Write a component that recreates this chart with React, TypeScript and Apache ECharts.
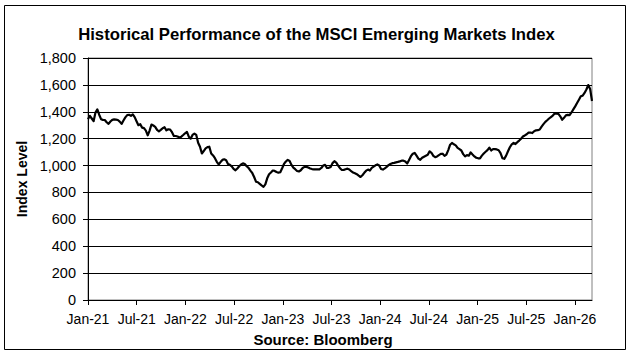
import React, { useEffect, useRef } from "react";
import * as echarts from "echarts";

// Weekly index levels, starting the first week of Jan 2021
const startYear = 2021;
const weeklyLevels: number[] = [
  1345, 1370, 1350, 1330, 1395, 1418, 1378, 1345, 1340, 1339,
  1322, 1310, 1328, 1340, 1343, 1342, 1339, 1327, 1310, 1335,
  1358, 1375, 1378, 1370, 1380, 1360, 1330, 1300, 1308, 1282,
  1278, 1260, 1225, 1260, 1305, 1298, 1288, 1265, 1255, 1265,
  1278, 1285, 1262, 1270, 1268, 1248, 1220, 1220, 1216, 1208,
  1215, 1227, 1240, 1250, 1215, 1200, 1228, 1238, 1228, 1170,
  1140, 1090, 1108, 1128, 1137, 1140, 1090, 1075, 1055, 1028,
  1008, 1026, 1042, 1047, 1040, 1011, 1005, 994, 975, 965,
  978, 995, 1008, 1016, 1011, 995, 983, 962, 945, 915,
  880, 876, 864, 852, 842, 860, 905, 935, 948, 963,
  960, 952, 947, 950, 980, 1012, 1030, 1042, 1034, 1005,
  985, 973, 960, 956, 965, 982, 990, 990, 985, 978,
  974, 972, 972, 972, 972, 982, 1000, 1005, 982, 983,
  990, 1018, 1032, 1022, 1000, 980, 967, 968, 973, 977,
  971, 958, 948, 943, 936, 925, 915, 928, 946, 962,
  970, 963, 982, 992, 1002, 1008, 1000, 975, 970, 979,
  990, 1003, 1012, 1018, 1020, 1024, 1027, 1031, 1036, 1036,
  1030, 1015, 1042, 1070, 1088, 1094, 1074, 1052, 1043, 1058,
  1066, 1073, 1080, 1106, 1095, 1072, 1062, 1068, 1078, 1087,
  1088, 1072, 1082, 1115, 1155, 1168, 1158, 1150, 1131, 1122,
  1112, 1085, 1068, 1078, 1073, 1098, 1082, 1068, 1058, 1054,
  1054, 1074, 1090, 1103, 1115, 1133, 1112, 1123, 1122, 1120,
  1114, 1092, 1055, 1050, 1074, 1106, 1136, 1158, 1168, 1160,
  1174, 1186, 1200, 1216, 1224, 1233, 1245, 1246, 1242, 1255,
  1262, 1263, 1268, 1290, 1308, 1325, 1337, 1350, 1361, 1372,
  1387, 1386, 1385, 1366, 1340, 1355, 1373, 1377, 1375, 1395,
  1418, 1440, 1465, 1490, 1516, 1520, 1540, 1566, 1599, 1570,
  1480,
];

const tickLabels: string[] = [
  "Jan-21", "Jul-21", "Jan-22", "Jul-22", "Jan-23", "Jul-23",
  "Jan-24", "Jul-24", "Jan-25", "Jul-25", "Jan-26",
];
const tickMonths: number[] = [0, 6, 12, 18, 24, 30, 36, 42, 48, 54, 60];

const yMin = 0;
const yMax = 1800;
const yStep = 200;

const titleText = "Historical Performance of the MSCI Emerging Markets Index";
const yAxisTitle = "Index Level";
const sourceText = "Source: Bloomberg";

const DAYS_PER_MONTH = 365.25 / 12;

export default function App() {
  const ref = useRef<HTMLDivElement>(null);

  useEffect(() => {
    if (!ref.current) return;
    const chart = echarts.init(ref.current, undefined, { renderer: "svg" });
    // x position = months elapsed since Jan 2021 (weekly observations)
    const data = weeklyLevels.map((v, i) => [(i * 7) / DAYS_PER_MONTH, v]);
    const xMax = ((weeklyLevels.length - 1) * 7) / DAYS_PER_MONTH;
    const font = "'Liberation Sans', Arial, sans-serif";

    chart.setOption({
      animation: false,
      backgroundColor: "#ffffff",
      textStyle: { fontFamily: font },
      title: {
        text: titleText,
        left: "center",
        top: 21,
        textStyle: { fontFamily: font, fontSize: 16.7, fontWeight: "bold", color: "#000" },
      },
      grid: {
        left: 88,
        right: 41,
        top: 58,
        bottom: 55,
        show: true,
        borderColor: "#808080",
        borderWidth: 1,
        backgroundColor: "transparent",
      },
      xAxis: {
        type: "value",
        min: 0,
        max: xMax,
        splitLine: { show: false },
        axisLine: { show: true, lineStyle: { color: "#000", width: 1 } },
        axisTick: {
          show: true,
          length: 5,
          lineStyle: { color: "#000" },
          customValues: tickMonths,
        },
        axisLabel: {
          customValues: tickMonths,
          color: "#000",
          fontFamily: font,
          fontSize: 14,
          margin: 12,
          formatter: (v: number) => {
            const idx = tickMonths.indexOf(Math.round(v));
            return idx >= 0 ? tickLabels[idx] : "";
          },
        },
      },
      yAxis: {
        type: "value",
        min: yMin,
        max: yMax,
        interval: yStep,
        name: yAxisTitle,
        nameLocation: "middle",
        nameRotate: 90,
        nameGap: 58,
        nameTextStyle: { fontFamily: font, fontSize: 14, fontWeight: "bold", color: "#000" },
        splitLine: { show: true, lineStyle: { color: "#000", width: 1 } },
        axisLine: { show: true, lineStyle: { color: "#000", width: 1 } },
        axisTick: { show: true, length: 5, lineStyle: { color: "#000" } },
        axisLabel: {
          color: "#000",
          fontFamily: font,
          fontSize: 14.5,
          margin: 12,
          formatter: (v: number) => v.toLocaleString("en-US"),
        },
      },
      series: [
        {
          type: "line",
          data,
          showSymbol: false,
          symbol: "none",
          lineStyle: { color: "#000", width: 2.2, join: "round" },
          itemStyle: { color: "#000" },
        },
      ],
      graphic: [
        {
          type: "rect",
          shape: { x: 4.5, y: 5.5, width: 621, height: 344 },
          style: { fill: "none", stroke: "#000", lineWidth: 1 },
          silent: true,
          z: 100,
        },
        {
          type: "text",
          x: 323,
          y: 339,
          style: {
            text: sourceText,
            fontFamily: font,
            fontSize: 15,
            fontWeight: "bold",
            fill: "#000",
            align: "center",
            verticalAlign: "middle",
          },
        },
      ],
    });
    return () => chart.dispose();
  }, []);

  return (
    <div
      ref={ref}
      style={{ position: "absolute", left: 0, top: 0, width: 633, height: 355 }}
    />
  );
}
